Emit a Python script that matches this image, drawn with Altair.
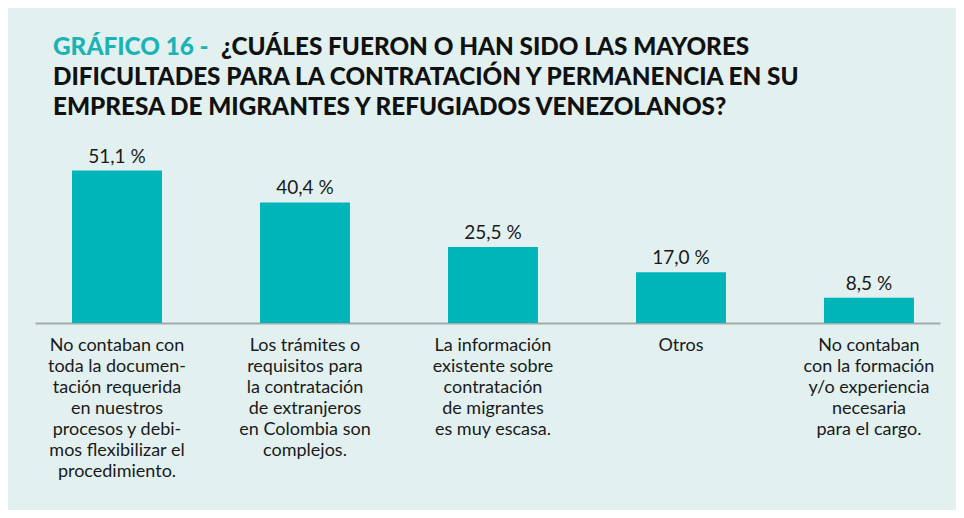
import altair as alt
import pandas as pd

keys = ["a", "b", "c", "d", "e"]
categories = [
    "No contaban con\ntoda la documen-\ntación requerida\nen nuestros\nprocesos y debi-\nmos flexibilizar el\nprocedimiento.",
    "Los trámites o\nrequisitos para\nla contratación\nde extranjeros\nen Colombia son\ncomplejos.",
    "La información\nexistente sobre\ncontratación\nde migrantes\nes muy escasa.",
    "Otros",
    "No contaban\ncon la formación\ny/o experiencia\nnecesaria\npara el cargo.",
]
values = [51.1, 40.4, 25.5, 17.0, 8.5]
value_labels = ["51,1 %", "40,4 %", "25,5 %", "17,0 %", "8,5 %"]

title_prefix = "GRÁFICO 16 -"
title_lines = [
    "¿CUÁLES FUERON O HAN SIDO LAS MAYORES",
    "DIFICULTADES PARA LA CONTRATACIÓN Y PERMANENCIA EN SU",
    "EMPRESA DE MIGRANTES Y REFUGIADOS VENEZOLANOS?",
]

df = pd.DataFrame({"key": keys, "cat": categories, "value": values, "label": value_labels})

BAR = "#00B5B9"
TEAL = "#1BB3B6"
FONT = "Lato"

xscale = alt.Scale(paddingInner=0.5213, paddingOuter=0.1676, align=0.587)
x = alt.X("key:N", sort=None, scale=xscale,
          axis=alt.Axis(title=None, labels=False, ticks=False, domain=True,
                        domainColor="#A3AAAA", domainWidth=2))
y = alt.Y("value:Q", scale=alt.Scale(domain=[0, 60]), axis=None)

base = alt.Chart(df)
bars = base.mark_bar(color=BAR).encode(x=x, y=y)
vals = base.mark_text(font=FONT, fontSize=19, fontWeight="normal", color="#1A1A1A",
                      baseline="alphabetic", dy=-8).encode(x=x, y=y, text="label:N")
cats = base.mark_text(font=FONT, fontSize=18, fontWeight="normal", color="#1A1A1A",
                      baseline="alphabetic", align="center", lineBreak="\n",
                      lineHeight=21).encode(x=x, y=alt.value(207), text="cat:N")

TS = 24.3
t0 = alt.Chart(pd.DataFrame({"t": [title_prefix]})).mark_text(
    font=FONT, fontSize=TS, fontWeight=900, color=TEAL, align="left",
    baseline="alphabetic").encode(x=alt.value(18), y=alt.value(-89), text="t:N")

title_layers = [t0]
for i, (line, xpos) in enumerate(zip(title_lines, [186, 18, 18])):
    title_layers.append(
        alt.Chart(pd.DataFrame({"t": [line]})).mark_text(
            font=FONT, fontSize=TS, fontWeight=900, color="#111111", align="left",
            baseline="alphabetic").encode(x=alt.value(xpos), y=alt.value(-89 + 30 * i), text="t:N")
    )

chart = alt.layer(bars, vals, cats, *title_layers).properties(
    width=905, height=179,
    autosize=alt.AutoSizeParams(type="none"),
    padding={"left": 27, "top": 136, "right": 16, "bottom": 187},
    background="#E2F1F0",
).configure_view(stroke=None)

chart.save("out.html", embed_options={"renderer": "svg", "actions": False})
